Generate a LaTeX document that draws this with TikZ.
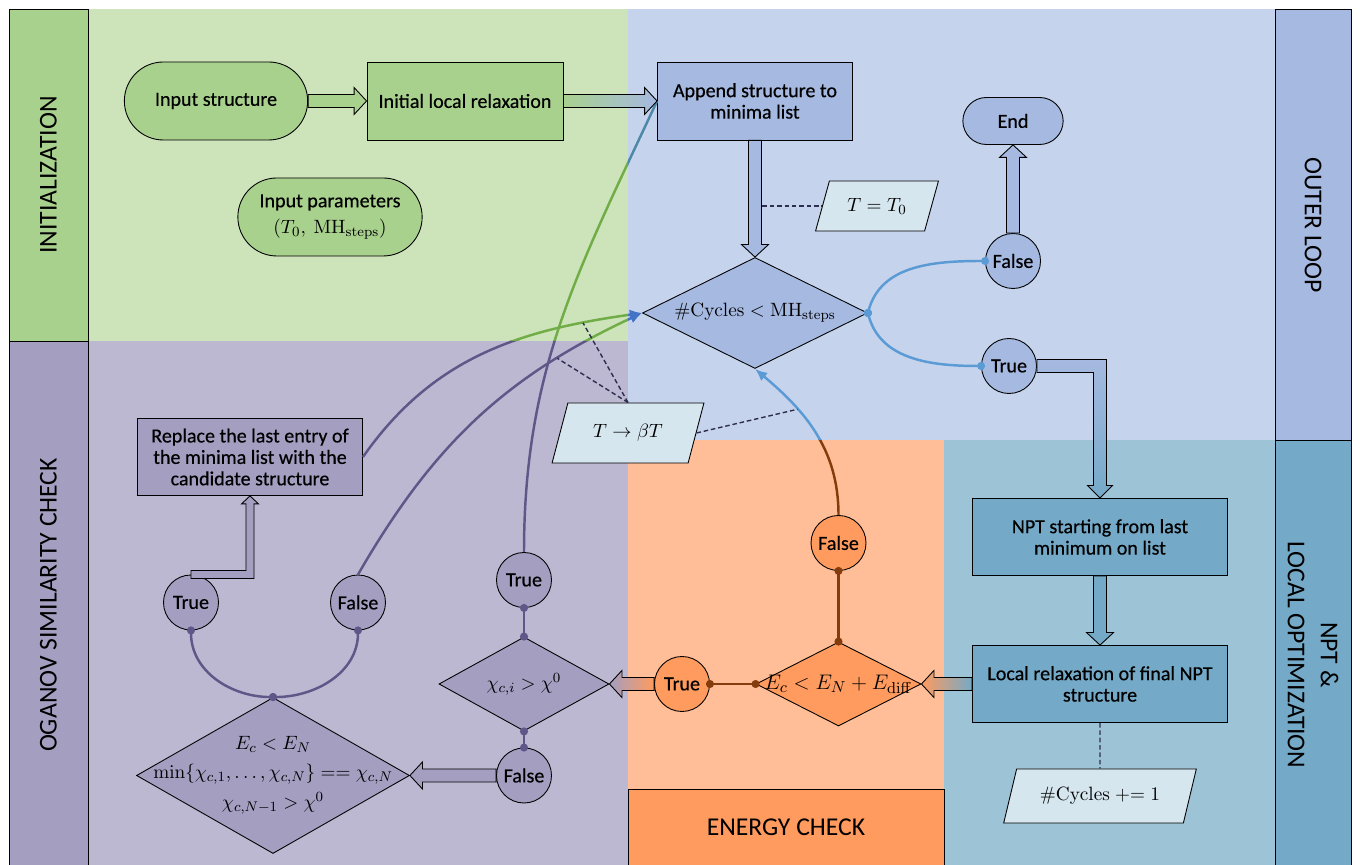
\documentclass[tikz,border=0pt]{standalone}
\usepackage[no-math]{fontspec}
\newfontfamily\flowfont[FakeBold=0.45]{Carlito}
\newfontfamily\lanefont{Carlito}
\usetikzlibrary{shapes.geometric, shapes.misc, arrows.meta, calc}

% region and node colours
\definecolor{regGreen}{HTML}{CDE3BA}
\definecolor{nodeGreen}{HTML}{A9D18E}
\definecolor{regPurple}{HTML}{BCB8D1}
\definecolor{nodePurple}{HTML}{A49EC1}
\definecolor{regBlue}{HTML}{C5D3EC}
\definecolor{nodeBlue}{HTML}{A6B9E1}
\definecolor{regOrange}{HTML}{FFBE98}
\definecolor{nodeOrange}{HTML}{FF9B5E}
\definecolor{regTeal}{HTML}{9CC3D6}
\definecolor{nodeTeal}{HTML}{74AAC8}
\definecolor{paraFill}{HTML}{D6E6EE}
\definecolor{lineBlue}{HTML}{5B9BD5}
\definecolor{tipBlue}{HTML}{4472C4}
\definecolor{lineTeal}{HTML}{4E88A8}
\definecolor{linePurple}{HTML}{5F5788}
\definecolor{lineBrown}{HTML}{843C0C}
\definecolor{lineGreen}{HTML}{70AD47}
\definecolor{dashCol}{HTML}{2E2E50}

\newcommand{\nodetext}{\flowfont\fontsize{11.4}{12.2}\selectfont}
\newcommand{\lanetext}{\lanefont\fontsize{14.6}{18.8}\selectfont}

% fat arrow sizes
\newcommand{\fashaft}{0.13cm}
\newcommand{\fawing}{0.27cm}
\newcommand{\fahead}{0.25cm}

% fat arrow from #2 to #3, #1 = fill or shading
\newcommand{\fatarrow}[3][fill=white]{%
  \coordinate (fa-b) at ($(#3)!\fahead!(#2)$);
  \path[draw=black, line width=0.5pt, #1]
    ($(#2)!\fashaft!90:(#3)$) -- ($(fa-b)!\fashaft!90:(#3)$)
    -- ($(fa-b)!\fawing!90:(#3)$) -- (#3)
    -- ($(fa-b)!\fawing!-90:(#3)$) -- ($(fa-b)!\fashaft!-90:(#3)$)
    -- ($(#2)!\fashaft!-90:(#3)$) -- cycle;
}

% regions used to colour the long connectors
\newcommand{\greenzone}{(1.76,10.48) rectangle (12.56,17.12)}
\newcommand{\purplezone}{(1.76,-0.1) rectangle (12.56,10.48)}
\newcommand{\bluezone}{(12.56,8.5) rectangle (25.5,17.12)}
\newcommand{\orangezone}{(12.56,-0.1) rectangle (18.88,8.5)}
\newcommand{\zonedraw}[3]{\begin{scope}\clip #1; \draw[flow, #2] #3; \end{scope}}

\tikzset{
  box/.style={rectangle, draw=black, line width=0.5pt, minimum height=1.54cm, align=center, font=\nodetext, inner sep=2pt},
  pill/.style={rounded rectangle, draw=black, line width=0.5pt, minimum height=1.56cm, align=center, font=\nodetext},
  dia/.style={diamond, draw=black, line width=0.5pt, inner sep=0pt, font=\nodetext},
  choice/.style={circle, draw=black, line width=0.5pt, minimum size=1.1cm, inner sep=0pt, font=\nodetext},
  iobox/.style={trapezium, trapezium left angle=65, trapezium right angle=115, trapezium stretches=true, draw=black, line width=0.5pt, fill=paraFill, font=\nodetext, inner sep=1pt},
  lane/.style={draw=black, line width=0.5pt},
  lanelabel/.style={font=\lanetext, align=center},
  flow/.style={line width=1.4pt},
  flowtip/.style={-{Latex[length=7pt,width=6pt]}},
  dotend/.style={{Circle[length=4.5pt]}-{Circle[length=4.5pt]}, shorten <=-2.25pt, shorten >=-2.25pt},
  dashlink/.style={draw=dashCol, line width=0.8pt, dash pattern=on 2.6pt off 1.6pt},
}

\begin{document}
\begin{tikzpicture}
\useasboundingbox (0,0) rectangle (27.2,17.3);

%--- REGIONS ---
\fill[regGreen] \greenzone;
\fill[regPurple] \purplezone;
\fill[regBlue] \bluezone;
\fill[regOrange] \orangezone;
\fill[regTeal] (18.88,-0.1) rectangle (25.5,8.5);

\draw[lane, fill=nodeGreen] (0.18,10.48) rectangle (1.76,17.12);
\draw[lane, fill=nodePurple] (0.18,-0.1) rectangle (1.76,10.48);
\draw[lane, fill=nodeBlue] (25.5,8.5) rectangle (27.02,17.12);
\draw[lane, fill=nodeTeal] (25.5,-0.1) rectangle (27.02,8.5);
\draw[lane, fill=nodeOrange] (12.56,-0.1) rectangle (18.88,1.52);

\node[lanelabel, rotate=90] (initLbl) at (0.97,13.8) {INITIALIZATION};
\node[lanelabel, rotate=90] (oganovLbl) at (0.97,5.2) {OGANOV SIMILARITY CHECK};
\node[lanelabel, rotate=-90] (outerLbl) at (26.26,12.8) {OUTER LOOP};
\node[lanelabel, rotate=-90] (nptLbl) at (26.26,4.2) {NPT \&\\LOCAL OPTIMIZATION};
\node[lanelabel] (energyLbl) at (15.72,0.76) {ENERGY CHECK};

%--- INITIALIZATION ---
\node[pill, fill=nodeGreen, minimum width=3.9cm] (inStruct) at (4.32,15.28) {Input structure};
\node[box, fill=nodeGreen, minimum width=3.92cm, minimum height=1.56cm] (initRelax) at (9.3,15.28) {Initial local relaxation};
\node[pill, fill=nodeGreen, minimum width=3.92cm] (inParams) at (6.6,12.96) {Input parameters\\[3pt] $(T_0,\ \mathrm{MH}_{\mathrm{steps}})$};

%--- OUTER LOOP ---
\node[box, fill=nodeBlue, minimum width=3.9cm, minimum height=1.56cm] (append) at (15.1,15.28) {Append structure to\\minima list};
\node[pill, fill=nodeBlue, minimum width=2.24cm, minimum height=0.94cm] (endN) at (20.26,14.88) {End};
\node[iobox, minimum width=2.46cm, minimum height=1.0cm] (tInit) at (17.54,13.18) {$T = T_0$};
\node[dia, fill=nodeBlue, aspect=2.03, minimum width=4.5cm, minimum height=2.22cm] (cycles) at (15.1,11.04) {$\#\mathrm{Cycles} < \mathrm{MH}_{\mathrm{steps}}$};
\node[choice, fill=nodeBlue] (falseO) at (20.26,12.08) {False};
\node[choice, fill=nodeBlue] (trueO) at (20.18,9.98) {True};
\node[iobox, minimum width=3.04cm, minimum height=1.2cm] (tBeta) at (12.56,8.64) {$T \to \beta T$};

%--- OGANOV SIMILARITY CHECK ---
\node[box, fill=nodePurple, minimum width=4.5cm] (replace) at (5.0,8.16) {Replace the last entry of\\the minima list with the\\candidate structure};
\node[choice, fill=nodePurple] (trueL) at (3.82,5.25) {True};
\node[choice, fill=nodePurple] (falseL) at (7.16,5.25) {False};
\node[dia, fill=nodePurple, minimum width=5.46cm, minimum height=3.12cm] (bigDia) at (5.46,1.79) {};
\node[font=\nodetext, align=center] (bigTxt) at (bigDia) {$E_c < E_N$\\[4pt] $\min\{\chi_{c,1},\ldots,\chi_{c,N}\} == \chi_{c,N}$\\[4pt] $\chi_{c,N-1} > \chi^0$};
\node[choice, fill=nodePurple] (trueM) at (10.48,5.7) {True};
\node[dia, fill=nodePurple, aspect=1.81, minimum width=3.4cm, minimum height=1.88cm] (chiDia) at (10.48,3.62) {$\chi_{c,i} > \chi^0$};
\node[choice, fill=nodePurple] (falseM) at (10.48,1.79) {False};

%--- ENERGY CHECK ---
\node[choice, fill=nodeOrange] (falseE) at (16.77,6.44) {False};
\node[dia, fill=nodeOrange, minimum width=3.3cm, minimum height=1.68cm] (ecDia) at (16.77,3.62) {};
\node[font=\flowfont\fontsize{12.4}{13}\selectfont] (ecTxt) at (ecDia) {$E_c < E_N + E_{\mathrm{diff}}$};
\node[choice, fill=nodeOrange] (trueE) at (13.64,3.62) {True};

%--- NPT & LOCAL OPTIMIZATION ---
\node[box, fill=nodeTeal, minimum width=5.1cm] (npt) at (22.0,6.56) {NPT starting from last\\minimum on list};
\node[box, fill=nodeTeal, minimum width=5.1cm] (localR) at (22.0,3.62) {Local relaxation of final NPT\\structure};
\node[iobox, minimum width=3.88cm, minimum height=1.08cm] (cyclesInc) at (22.0,1.38) {$\#\mathrm{Cycles} \mathrel{+}= 1$};

%--- THIN CONNECTORS ---
\draw[flow, lineBlue, dotend] (cycles.east) to[out=75,in=180] (falseO.west);
\draw[flow, lineBlue, dotend] (cycles.east) to[out=-75,in=180] (trueO.west);
\draw[flow, linePurple, dotend] (bigDia.north) to[out=180,in=-90] (trueL.south);
\draw[flow, linePurple, dotend] (bigDia.north) to[out=0,in=-90] (falseL.south);
\draw[flow, linePurple, dotend] (trueM.south) -- (chiDia.north);
\draw[flow, linePurple, dotend] (chiDia.south) -- (falseM.north);
\draw[flow, lineBrown, dotend] (falseE.south) -- (ecDia.north);
\draw[flow, lineBrown, dotend] (trueE.east) -- (ecDia.west);

% long connectors take the colour of each region they cross
\zonedraw{\purplezone}{linePurple}{(trueM.north) to[out=90,in=245] (append.west)}
\zonedraw{\greenzone}{lineGreen}{(trueM.north) to[out=90,in=245] (append.west)}
\zonedraw{\bluezone}{lineTeal}{(trueM.north) to[out=90,in=245] (append.west)}

\zonedraw{\purplezone}{linePurple, flowtip}{(replace.east) to[out=55,in=188] (cycles.west)}
\zonedraw{\greenzone}{lineGreen, flowtip}{(replace.east) to[out=55,in=188] coordinate[pos=0.83] (c2dash) (cycles.west)}
\zonedraw{\bluezone}{tipBlue, flowtip}{(replace.east) to[out=55,in=188] (cycles.west)}

\zonedraw{\purplezone}{linePurple, flowtip}{(falseL.north) to[out=60,in=205] coordinate[pos=0.77] (c3dash) (cycles.west)}
\zonedraw{\greenzone}{lineGreen, flowtip}{(falseL.north) to[out=60,in=205] (cycles.west)}
\zonedraw{\bluezone}{tipBlue, flowtip}{(falseL.north) to[out=60,in=205] (cycles.west)}

\zonedraw{\orangezone}{lineBrown, flowtip}{(falseE.north) to[out=90,in=-40] (cycles.south)}
\zonedraw{\bluezone}{lineBlue, flowtip}{(falseE.north) to[out=90,in=-40] coordinate[pos=0.68] (c4dash) (cycles.south)}

%--- DASHED LINKS ---
\draw[dashlink] (append.south |- tInit.west) -- (tInit.west);
\draw[dashlink] (tBeta.north) -- (c2dash);
\draw[dashlink] (tBeta.north) -- (c3dash);
\draw[dashlink] (tBeta.east) -- (c4dash);
\draw[dashlink] (localR.south) -- (cyclesInc.north);

%--- FAT ARROWS ---
\fatarrow[fill=nodeGreen]{inStruct.east}{initRelax.west}
\fatarrow[left color=nodeGreen, middle color=nodeGreen, right color=nodeBlue]{initRelax.east}{append.west}
\fatarrow[fill=nodeBlue]{append.south}{cycles.north}
\fatarrow[fill=nodeBlue]{falseO.north}{endN.south}
\fatarrow[fill=nodeTeal]{npt.south}{localR.north}
\fatarrow[left color=nodeOrange, right color=nodeTeal]{localR.west}{ecDia.east}
\fatarrow[left color=nodePurple, right color=nodeOrange]{trueE.west}{chiDia.east}
\fatarrow[fill=nodePurple]{falseM.west}{bigDia.east}

% True -> NPT, right then down
\coordinate (kO) at (npt.north |- trueO.east);
\path[draw=black, line width=0.5pt, top color=nodeBlue, bottom color=nodeTeal]
  ($(trueO.east)+(0,0.13)$) -- ($(kO)+(0.13,0.13)$)
  -- ($(npt.north)+(0.13,0.25)$) -- ($(npt.north)+(0.25,0.25)$) -- (npt.north)
  -- ($(npt.north)+(-0.25,0.25)$) -- ($(npt.north)+(-0.13,0.25)$)
  -- ($(kO)+(-0.13,-0.13)$) -- ($(trueO.east)+(0,-0.13)$) -- cycle;

% True -> Replace, right then up
\coordinate (kL) at (replace.south |- trueL.north);
\path[draw=black, line width=0.5pt, fill=nodePurple]
  ($(trueL.north)+(0,0.08)$) -- ($(kL)+(-0.08,0.08)$)
  -- ($(replace.south)+(-0.08,-0.16)$) -- ($(replace.south)+(-0.17,-0.16)$) -- (replace.south)
  -- ($(replace.south)+(0.17,-0.16)$) -- ($(replace.south)+(0.08,-0.16)$)
  -- ($(kL)+(0.08,-0.08)$) -- ($(trueL.north)+(0,-0.08)$) -- cycle;

\end{tikzpicture}
\end{document}
